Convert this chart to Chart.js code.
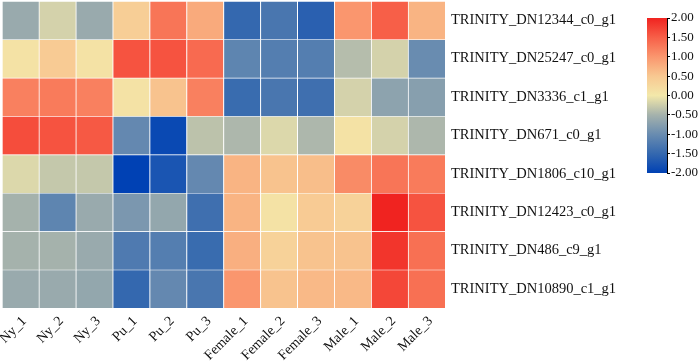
<!DOCTYPE html>
<html>
<head>
<meta charset="utf-8">
<script src="https://cdn.jsdelivr.net/npm/chart.js@4"></script>
<style>
  body { margin: 0; background: #fff; }
  #wrap { position: relative; width: 699px; height: 362px; }
  #main { position: absolute; left: 0; top: 0; width: 699px; height: 362px; }
  #bar { position: absolute; left: 640px; top: 8px; width: 59px; height: 175px; }
</style>
</head>
<body>
<div id="wrap">
  <div id="main"><canvas id="heat"></canvas></div>
  <div id="bar"><canvas id="scale"></canvas></div>
</div>
<script>
// samples (columns) and genes (rows)
const samples = ['Ny_1', 'Ny_2', 'Ny_3', 'Pu_1', 'Pu_2', 'Pu_3',
    'Female_1', 'Female_2', 'Female_3', 'Male_1', 'Male_2', 'Male_3'];
const genes = ['TRINITY_DN12344_c0_g1', 'TRINITY_DN25247_c0_g1', 'TRINITY_DN3336_c1_g1',
    'TRINITY_DN671_c0_g1', 'TRINITY_DN1806_c10_g1', 'TRINITY_DN12423_c0_g1',
    'TRINITY_DN486_c9_g1', 'TRINITY_DN10890_c1_g1'];

// scaled expression, one array per gene
const dn12344 = [-0.6, -0.2, -0.6, 0.4, 1.3, 0.8, -1.5, -1.3, -1.6, 1.0, 1.5, 0.7];
const dn25247 = [0.1, 0.45, 0.1, 1.6, 1.6, 1.4, -1.1, -1.2, -1.2, -0.4, -0.2, -1.0];
const dn3336 = [1.2, 1.25, 1.2, 0.1, 0.55, 1.2, -1.45, -1.3, -1.4, -0.2, -0.7, -0.75];
const dn671 = [1.65, 1.6, 1.55, -1.05, -1.9, -0.35, -0.45, -0.15, -0.45, 0.1, -0.2, -0.45];
const dn1806 = [-0.15, -0.3, -0.3, -2.0, -1.75, -1.05, 0.7, 0.55, 0.6, 1.1, 1.3, 1.25];
const dn12423 = [-0.5, -1.1, -0.6, -0.85, -0.65, -1.4, 0.7, 0.1, 0.45, 0.35, 2.0, 1.6];
const dn486 = [-0.5, -0.5, -0.6, -1.25, -1.2, -1.45, 0.75, 0.35, 0.55, 0.55, 1.85, 1.35];
const dn10890 = [-0.6, -0.6, -0.65, -1.5, -1.05, -1.3, 1.0, 0.55, 0.65, 0.65, 1.7, 1.35];
const rows = [dn12344, dn25247, dn3336, dn671, dn1806, dn12423, dn486, dn10890];

// colour bar range and ticks
const scaleMin = -2;
const scaleMax = 2;
const scaleStep = 0.5;

const stops = [
    [-2, [0, 65, 180]],
    [-1.5, [52, 104, 175]],
    [-1, [105, 140, 176]],
    [-0.5, [165, 178, 172]],
    [0, [243, 232, 170]],
    [0.5, [248, 200, 145]],
    [1, [250, 150, 110]],
    [1.5, [247, 95, 72]],
    [2, [240, 35, 32]]
];

function colorOf(v) {
    v = Math.max(scaleMin, Math.min(scaleMax, v));
    for (let i = 0; i < stops.length - 1; i++) {
        const a = stops[i], b = stops[i + 1];
        if (v <= b[0]) {
            const t = (v - a[0]) / (b[0] - a[0]);
            const c = a[1].map((x, k) => Math.round(x + (b[1][k] - x) * t));
            return `rgb(${c[0]}, ${c[1]}, ${c[2]})`;
        }
    }
    const last = stops[stops.length - 1][1];
    return `rgb(${last[0]}, ${last[1]}, ${last[2]})`;
}

const serif = 'Liberation Serif';

new Chart(document.getElementById('heat'), {
    type: 'bar',
    data: {
        labels: samples,
        datasets: rows.map((vals, i) => ({
            label: genes[i],
            data: samples.map(() => [i - 0.5, i + 0.5]),
            backgroundColor: vals.map(colorOf),
            borderColor: '#ffffff',
            borderWidth: { top: 1, left: 1, right: 0, bottom: 0 },
            borderSkipped: false,
            barPercentage: 1,
            categoryPercentage: 1,
            grouped: false
        }))
    },
    options: {
        responsive: true,
        maintainAspectRatio: false,
        animation: false,
        layout: { padding: { left: 2, top: 1, right: 74, bottom: 0 } },
        plugins: {
            legend: { display: false },
            tooltip: { enabled: false }
        },
        scales: {
            x: {
                grid: { display: false, drawTicks: false },
                border: { display: false },
                ticks: {
                    color: '#111',
                    font: { family: serif, size: 14 },
                    minRotation: 45,
                    maxRotation: 45,
                    padding: 5,
                    labelOffset: 4
                },
                afterFit: s => { s.height = 54; s.paddingLeft = 0; s.paddingRight = 0; }
            },
            y: {
                position: 'right',
                reverse: true,
                min: -0.5,
                max: 7.5,
                grid: { display: false, drawTicks: false },
                border: { display: false },
                afterBuildTicks: s => { s.ticks = genes.map((g, i) => ({ value: i })); },
                ticks: {
                    color: '#111',
                    font: { family: serif, size: 14.5 },
                    padding: 6,
                    callback: v => genes[v]
                },
                afterFit: s => { s.width = 180; s.paddingTop = 0; s.paddingBottom = 0; }
            }
        }
    }
});

// colour bar
const barTicks = [];
for (let v = scaleMin; v <= scaleMax + 1e-9; v += scaleStep) barTicks.push(v);

new Chart(document.getElementById('scale'), {
    type: 'bar',
    data: {
        labels: ['z'],
        datasets: [{
            data: [[scaleMin, scaleMax]],
            backgroundColor: ctx => {
                const area = ctx.chart.chartArea;
                if (!area) return '#ccc';
                const g = ctx.chart.ctx.createLinearGradient(0, area.bottom, 0, area.top);
                stops.forEach(s => g.addColorStop((s[0] - scaleMin) / (scaleMax - scaleMin), colorOf(s[0])));
                return g;
            },
            borderWidth: 0,
            barPercentage: 1,
            categoryPercentage: 1
        }]
    },
    options: {
        responsive: true,
        maintainAspectRatio: false,
        animation: false,
        layout: { padding: { left: 7, top: 10, right: 0, bottom: 10 } },
        plugins: {
            legend: { display: false },
            tooltip: { enabled: false }
        },
        scales: {
            x: { display: false },
            y: {
                position: 'right',
                min: scaleMin,
                max: scaleMax,
                afterBuildTicks: s => { s.ticks = barTicks.map(v => ({ value: v })); },
                grid: { drawOnChartArea: false, color: '#000', tickLength: 3 },
                border: { display: true, color: '#000', width: 1 },
                ticks: {
                    color: '#111',
                    font: { family: serif, size: 13 },
                    padding: 1,
                    callback: v => v.toFixed(2)
                },
                afterFit: s => { s.width = 32; s.paddingTop = 0; s.paddingBottom = 0; }
            }
        }
    }
});
</script>
</body>
</html>
